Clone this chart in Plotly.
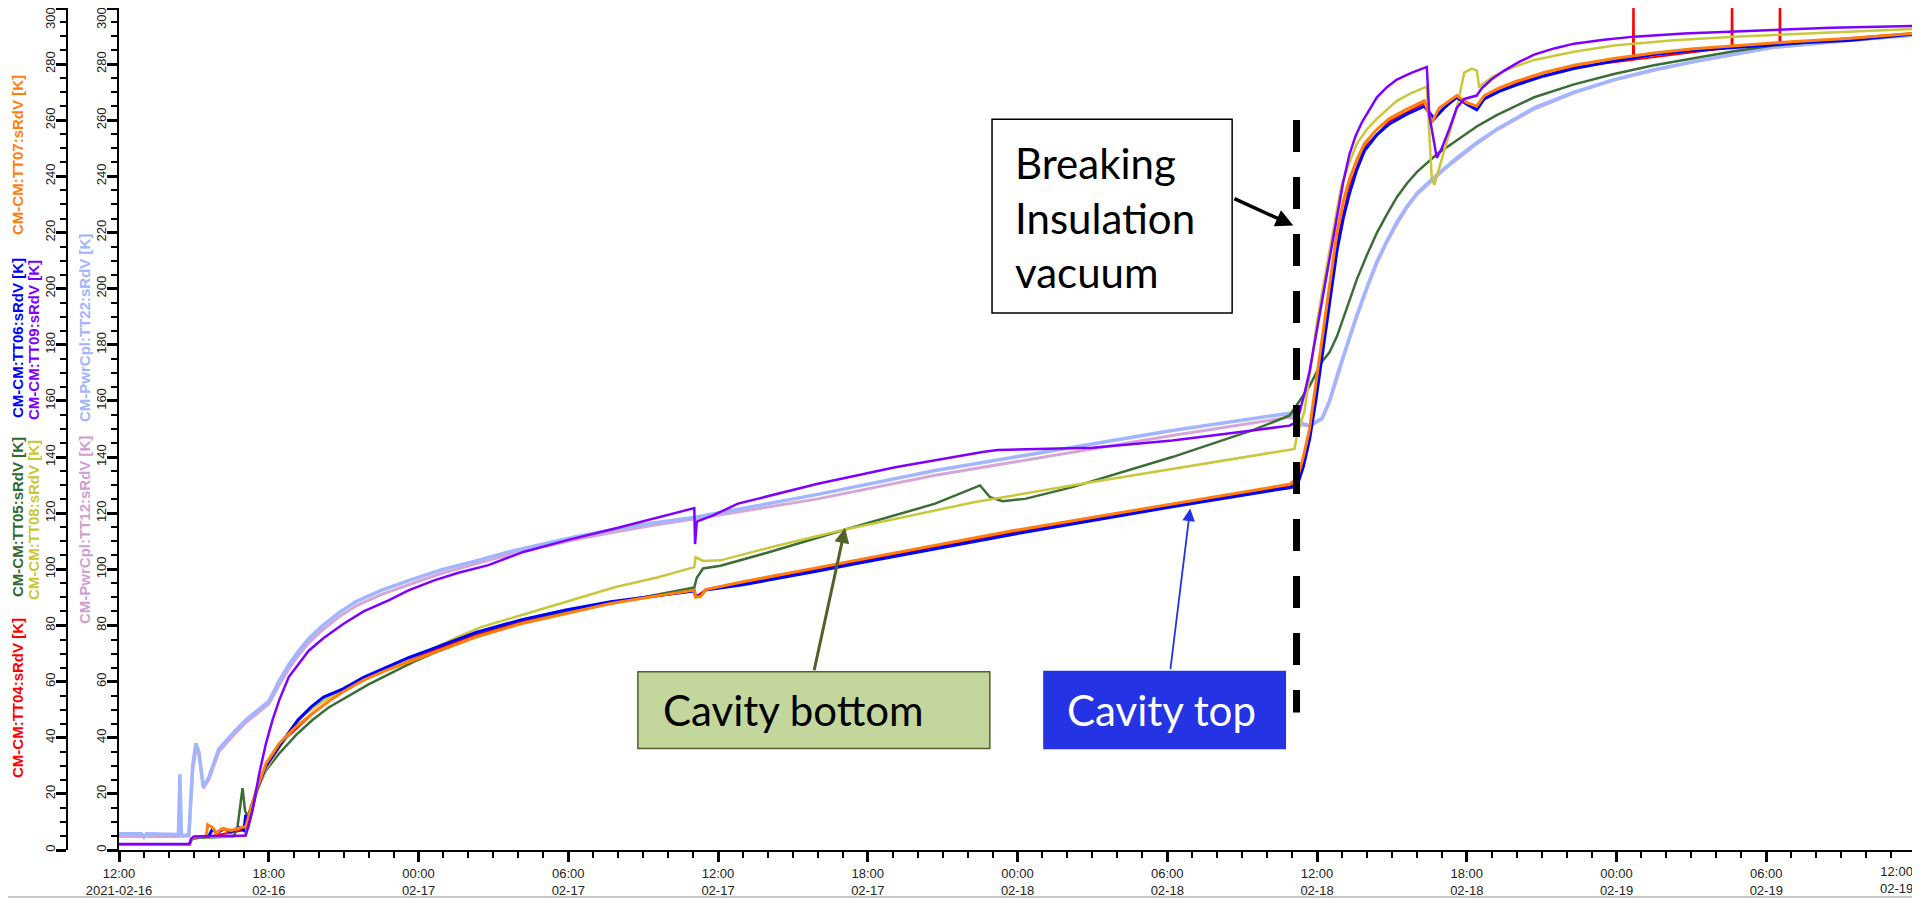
import pandas as pd
import plotly.graph_objects as go

START = "2021-02-16 12:00"

# ---------------- data (hours since START, temperature K) ----------------
TT04_RED = [(0, 2), (2.82, 2), (2.9, 3.8), (5.0, 7), (5.5, 21), (5.9, 30.5), (6.42, 37.5),
            (7.75, 48.5), (9.0, 57), (10.7, 64.5), (12.5, 70.8), (14.3, 76.7), (16.1, 81.3),
            (17.9, 84.8), (19.7, 88.1), (23.05, 92.4), (23.1, 90.2), (23.5, 92.7),
            (28, 100.0), (35.9, 113.2), (42.2, 122.8), (46.9, 129.7), (47.2, 131), (47.7, 148),
            (48.2, 178.5), (48.8, 216.5), (49.3, 236.5), (49.9, 250.4), (50.9, 259.6),
            (52.3, 266), (52.6, 259.8), (53.6, 268.5), (54.4, 264.3), (54.7, 268.2), (56, 273.2),
            (58.3, 279), (60.66, 281.5), (60.68, 320), (60.70, 281.6), (64.61, 286.0),
            (64.63, 320), (64.65, 286.0), (66.53, 287.3), (66.55, 320), (66.57, 287.4),
            (69.4, 288.9), (72, 290.9)]

TT05_GREEN = [(0, 2), (2.82, 2), (2.9, 3.8), (3.0, 4.3), (4.6, 4.8), (4.75, 8.3), (4.95, 22),
              (5.05, 14), (5.15, 11.9), (5.5, 21), (5.9, 28.5), (6.42, 34.4), (7.1, 41),
              (7.75, 46.3), (8.4, 50.8), (9.1, 54.5), (10, 59), (10.9, 63), (11.8, 67),
              (12.7, 70.5), (14.3, 76), (16, 80.5), (17.7, 84.3), (19.5, 87.5), (21.3, 90.6),
              (23.05, 93.5), (23.15, 97), (23.4, 100.3), (24.1, 101.3), (26, 106), (29, 113.9),
              (32.7, 123.4), (34.5, 129.9), (34.9, 125.7), (35.4, 124.3), (36.3, 125.1),
              (38.2, 129.3), (40.2, 134.6), (42.2, 140), (45.4, 149.5), (46.9, 154.8),
              (47.3, 160), (47.7, 165.3), (48.2, 174), (48.5, 177.3), (48.8, 183), (49.2, 193.5),
              (49.6, 203.4), (50.0, 212), (50.4, 219.9), (50.8, 226.5), (51.2, 232.6),
              (51.6, 237.5), (52, 241.5), (52.8, 247.9), (53.6, 253), (54.4, 257.8), (55.2, 261.8),
              (56.7, 268.2), (58.3, 272.8), (59.9, 276.5), (61.5, 279.6), (63.1, 282.2),
              (64.7, 284.6), (66.3, 286.6), (69.4, 289.2), (72, 291)]

TT06_BLUE = [(0, 2), (2.82, 2), (2.9, 3.8), (3.0, 4.5), (3.6, 5), (3.75, 7.5), (3.9, 6), (4.2, 7.5),
             (4.5, 6.5), (4.8, 8), (5.0, 7), (5.08, 12.5), (5.15, 8), (5.5, 21), (5.9, 30),
             (6.42, 37), (7.16, 46.2), (7.7, 51), (8.2, 54.5), (9.0, 57.5), (9.8, 61.5),
             (10.7, 65), (11.6, 68.5), (12.5, 71.5), (14.3, 77.5), (16.1, 82), (17.9, 85.5),
             (19.7, 88.5), (21.4, 90.5), (23.05, 92.3), (23.1, 90.3), (23.3, 90.6), (23.5, 92.6),
             (25, 94.5), (28, 99.4), (29.5, 102), (35.9, 112.6), (42.2, 122.3), (46.9, 129.1),
             (47.2, 129.7), (47.45, 136.5), (47.7, 146.2), (47.95, 160), (48.2, 175.4),
             (48.5, 195), (48.8, 213.5), (49.05, 225), (49.3, 233.9), (49.6, 242.5), (49.9, 249.1),
             (50.4, 254.8), (50.9, 258.7), (51.6, 262.2), (52.3, 265), (52.7, 260.6),
             (53.1, 264.5), (53.6, 268.2), (54.0, 265.7), (54.4, 263.7), (54.7, 267.6),
             (55.3, 270.3), (56, 272.6), (57.1, 275.8), (58.3, 278.4), (59.9, 281.1),
             (61.5, 283.4), (63.1, 284.9), (64.7, 286), (67, 287.4), (69.4, 288.5), (72, 290.8)]

TT07_ORANGE = [(0, 2), (2.82, 2), (2.9, 3.8), (3.0, 4.5), (3.5, 5), (3.55, 9), (3.75, 8), (3.9, 6),
               (4.1, 7.5), (4.5, 7), (4.9, 8), (5.08, 8.3), (5.5, 21.4), (5.9, 30.9), (6.42, 38),
               (7.09, 43.9), (7.75, 48.7), (8.4, 53), (9.0, 56.5), (9.8, 60.5), (10.7, 64),
               (11.6, 67), (12.5, 70), (13.4, 73), (14.3, 75.9), (16.1, 80.6), (17.9, 84.2),
               (19.7, 87.8), (21.4, 90.3), (23.05, 92.6), (23.1, 90.1), (23.3, 90.3), (23.5, 92.8),
               (25, 95.6), (28, 100.6), (29.5, 103.2), (35.9, 113.9), (42.2, 123.4), (46.9, 130.3),
               (47.2, 132.2), (47.45, 140), (47.7, 150), (47.95, 165), (48.2, 181.8),
               (48.5, 201), (48.8, 219.9), (49.05, 231), (49.3, 239), (49.6, 246), (49.9, 251.7),
               (50.4, 256.8), (50.9, 260.6), (51.6, 264), (52.3, 266.9), (52.6, 259.3),
               (52.9, 264.4), (53.6, 268.8), (54.0, 266.3), (54.4, 265), (54.7, 268.8),
               (55.3, 271.5), (56, 273.9), (57.1, 277), (58.3, 279.6), (59.9, 282), (61.5, 284),
               (63.1, 285.5), (64.7, 286.6), (67, 288), (69.4, 289.2), (72, 291)]

TT08_YELLOW = [(0, 2), (2.82, 2), (2.9, 4), (3.0, 4.5), (5.0, 5), (5.2, 8), (5.5, 20), (5.9, 29),
               (6.4, 36), (7.3, 47.4), (8.2, 53.2), (9.1, 58.1), (10, 61.8), (10.9, 65.2),
               (11.8, 68.8), (12.7, 72.3), (13.6, 76), (14.5, 79.4), (16.3, 84.2), (18.1, 88.9),
               (19.9, 93.7), (21.6, 97.2), (23.05, 100.8), (23.1, 104.3), (23.4, 103),
               (24.1, 103.2), (26.4, 108.5), (29, 114), (34.3, 124), (39, 131.1), (43.8, 138.2),
               (47.1, 142.9), (47.2, 148), (47.5, 156.4), (47.75, 172), (48.0, 188.1),
               (48.25, 201), (48.5, 213.5), (48.75, 226), (48.97, 236.4), (49.3, 245),
               (49.6, 251.7), (50.0, 256.8), (50.4, 260.6), (51.2, 266.9), (51.8, 269.8),
               (52.4, 272), (52.6, 239), (52.7, 237), (53.1, 249.1), (53.6, 264.4), (53.9, 277),
               (54.2, 278.4), (54.4, 277.7), (54.5, 272), (55.1, 275.8), (55.9, 279),
               (56.7, 281.5), (58.3, 284.4), (59.9, 286.6), (62.3, 288.5), (64.7, 289.8),
               (69.4, 291.7), (72, 292.6)]

TT09_PURPLE = [(0, 2.1), (2.82, 2.1), (2.9, 4.1), (3.0, 4.8), (5.08, 5.2), (5.35, 14.3),
               (5.62, 27.3), (5.89, 38), (6.15, 46.3), (6.42, 53.4), (6.8, 61.6), (7.2, 66.5),
               (7.6, 71), (8.2, 75.5), (9.0, 80.6), (9.8, 85), (10.8, 88.9), (11.6, 92.5),
               (12.6, 96), (13.6, 98.8), (14.8, 101.5), (16.2, 106.2), (18.0, 110.5),
               (19.8, 114.4), (21.5, 118.4), (23.05, 121.8), (23.08, 109), (23.15, 117),
               (23.8, 119.2), (24.8, 123.4), (28, 130.5), (31.1, 136.4), (34.6, 141.8),
               (35.2, 142.5), (39, 143.3), (42.2, 145.9), (45.4, 149.5), (46.9, 151.2),
               (47.2, 152.6), (47.5, 162.7), (47.7, 170.5), (47.9, 180.5), (48.1, 190.5),
               (48.3, 200.8), (48.55, 214), (48.8, 226.3), (49.05, 238), (49.3, 247.9),
               (49.55, 254.5), (49.8, 259.3), (50.1, 264), (50.4, 268.2), (50.8, 271.8),
               (51.2, 274.5), (51.8, 277), (52.4, 279), (52.5, 261.8), (52.8, 246.6), (53.0, 250),
               (53.3, 256.8), (53.6, 264.4), (53.9, 267.6), (54.4, 268.8), (54.6, 271.4),
               (55.0, 274.6), (55.5, 277.7), (56.1, 280.8), (56.7, 283.4), (57.5, 285.6),
               (58.3, 287.3), (59.5, 288.7), (60.7, 289.8), (62.7, 290.9), (64.7, 291.7),
               (68.6, 293), (72, 293.6)]

TT12_PINK = [(0, 4.8), (2.38, 4.8), (2.44, 18), (2.5, 5), (2.8, 5), (2.95, 28), (3.08, 36),
             (3.2, 34), (3.38, 22), (3.6, 25), (4.0, 35), (4.6, 41), (5.1, 45.5), (5.6, 49),
             (6.0, 52), (6.4, 58.5), (6.8, 64.5), (7.2, 69.5), (7.6, 73.8), (8.1, 78),
             (8.8, 83), (9.5, 87), (10.5, 91), (11.6, 94.5), (12.9, 98.5), (14.3, 102),
             (15.6, 105.2), (17, 108), (18.3, 110.6), (19.7, 113), (21.4, 115.7), (23.1, 118),
             (28, 125.1), (32.7, 133.5), (37.4, 140.5), (42.2, 147.7), (46.9, 154.2),
             (47.2, 153.5), (47.4, 151.5), (47.7, 151), (48.2, 153.5), (48.5, 159.5),
             (48.8, 168), (49.2, 179.5), (49.6, 190), (50.0, 200), (50.4, 209), (50.8, 216.5),
             (51.2, 223), (51.6, 228.8), (52, 233.5), (52.6, 238.5), (53.1, 242.5), (53.6, 246),
             (54.4, 251.6), (55.2, 256.5), (56.7, 264), (58.3, 269.8), (59.9, 274.3),
             (61.5, 277.8), (63.1, 280.8), (64.7, 283.5), (66.3, 286), (69.4, 288.5), (72, 290.3)]

TT22_LIGHTBLUE = [(0, 5.8), (0.9, 5.8), (1.0, 4.6), (1.1, 5.8), (2.38, 5.5), (2.44, 27), (2.5, 6),
                  (2.56, 5), (2.8, 5.5), (2.95, 30), (3.08, 38), (3.2, 35), (3.38, 22.5),
                  (3.6, 26), (4.0, 36), (4.6, 42), (5.1, 46.5), (5.6, 50), (6.0, 53), (6.4, 60),
                  (6.8, 66), (7.2, 71), (7.6, 75.3), (8.1, 79.5), (8.8, 84.5), (9.5, 88.5),
                  (10.5, 92.5), (11.6, 96), (12.9, 99.8), (14.3, 103), (15.6, 106.2), (17.0, 109),
                  (18.3, 111.6), (19.7, 114), (21.4, 116.5), (23.1, 118.6), (28.0, 126.7),
                  (32.7, 135.2), (37.4, 142.3), (42.2, 149.5), (46.9, 155.6), (47.2, 154.5),
                  (47.4, 152), (47.7, 151.2), (48.2, 153.8), (48.5, 160), (48.8, 169),
                  (49.2, 180), (49.6, 190.7), (50.0, 200.5), (50.4, 209.7), (50.8, 217),
                  (51.2, 223.7), (51.6, 229.3), (52.0, 233.9), (52.6, 239), (53.1, 243),
                  (53.6, 246.6), (54.4, 252), (55.2, 256.8), (56.7, 264.4), (58.3, 270),
                  (59.9, 274.5), (61.5, 278), (63.1, 280.9), (64.7, 283.6), (66.3, 286),
                  (69.4, 288.5), (72.0, 290.4)]

X_TICK_HOURS = [0, 6, 12, 18, 24, 30, 36, 42, 48, 54, 60, 66, 72]
X_TICK_LABELS = ["12:00<br>2021-02-16", "18:00<br>02-16", "00:00<br>02-17", "06:00<br>02-17",
                 "12:00<br>02-17", "18:00<br>02-17", "00:00<br>02-18", "06:00<br>02-18",
                 "12:00<br>02-18", "18:00<br>02-18", "00:00<br>02-19", "06:00<br>02-19",
                 "12:00<br>02-19"]
Y_TICKS = [0, 20, 40, 60, 80, 100, 120, 140, 160, 180, 200, 220, 240, 260, 280, 300]

# (name, points, colour, width) in drawing order
SERIES = [
    ("CM-CM:TT04:sRdV [K]", TT04_RED, "#ff0000", 2),
    ("CM-PwrCpl:TT12:sRdV [K]", TT12_PINK, "#d6a6d8", 3),
    ("CM-PwrCpl:TT22:sRdV [K]", TT22_LIGHTBLUE, "#a2b6ff", 3.5),
    ("CM-CM:TT05:sRdV [K]", TT05_GREEN, "#3b6e36", 2.5),
    ("CM-CM:TT08:sRdV [K]", TT08_YELLOW, "#c8c83c", 2.5),
    ("CM-CM:TT06:sRdV [K]", TT06_BLUE, "#0000ff", 3),
    ("CM-CM:TT07:sRdV [K]", TT07_ORANGE, "#ff7f0e", 3),
    ("CM-CM:TT09:sRdV [K]", TT09_PURPLE, "#8000ff", 2.5),
]

T0 = pd.Timestamp(START)


def ts(h):
    return (T0 + pd.Timedelta(hours=h)).strftime("%Y-%m-%d %H:%M:%S")


fig = go.Figure()
# empty trace so that the outer (second) temperature axis is drawn
fig.add_trace(go.Scatter(x=[], y=[], xaxis="x2", yaxis="y2", showlegend=False))
for name, pts, col, w in SERIES:
    fig.add_trace(go.Scatter(
        x=[ts(h) for h, _ in pts], y=[v for _, v in pts], mode="lines", name=name,
        line=dict(color=col, width=w), hoverinfo="skip"))

# page pixel -> paper coordinates (page body has an 8px margin)
OFF = 8
PAPER_W = 1908
PLOT_TOP, PLOT_BOTTOM = 8, 850


def pxx(p):
    return (p - OFF) / PAPER_W


def pxy(p):
    return (PLOT_BOTTOM - p) / (PLOT_BOTTOM - PLOT_TOP)


tick_font = dict(family="Liberation Sans, Arial, sans-serif", size=13, color="#222")
yax = dict(range=[0, 300], showline=True, linecolor="black", linewidth=2, ticks="outside",
           ticklen=10, tickwidth=3, tickcolor="black", tickmode="array", tickvals=Y_TICKS,
           ticktext=[str(v) for v in Y_TICKS[:-1]] + [""], tickangle=-90,
           tickfont=tick_font, showgrid=False, zeroline=False, fixedrange=True,
           automargin=False, ticklabeloverflow="allow", domain=[0, 1], ticklabelstandoff=-4,
           minor=dict(tickmode="linear", tick0=0, dtick=5, ticklen=6, tickwidth=1.5,
                      tickcolor="black", ticks="outside", showgrid=False))

fig.update_layout(
    width=1920, height=899,
    margin=dict(l=0, r=1920 - PAPER_W, t=PLOT_TOP - OFF, b=899 - (PLOT_BOTTOM - OFF)),
    paper_bgcolor="white", plot_bgcolor="rgba(0,0,0,0)", showlegend=False,
    xaxis=dict(domain=[pxx(119), 1], range=[ts(0), ts(72)], showline=True, linecolor="black",
               linewidth=2, ticks="outside", ticklen=10, tickwidth=3, tickcolor="black",
               tickmode="array", tickvals=[ts(h) for h in X_TICK_HOURS],
               ticktext=X_TICK_LABELS[:-1] + [""], tickangle=0, automargin=False,
               tickfont=tick_font, showgrid=False, zeroline=False, ticklabeloverflow="allow",
               anchor="y",
               minor=dict(tickmode="linear", tick0=ts(0), dtick=3600000, ticklen=6,
                          tickwidth=1.5, tickcolor="black", ticks="outside", showgrid=False)),
    xaxis2=dict(domain=[pxx(68), 1], range=[ts(0), ts(72)], visible=False, anchor="y2",
                automargin=False, fixedrange=True),
    yaxis=dict(**yax, anchor="x", side="left"),
    yaxis2=dict(**yax, anchor="x2", side="left"),
)

# "300" labels kept inside the page (shifted below their tick like the reference)
for ax_x in (50, 101):
    fig.add_annotation(x=pxx(ax_x), y=pxy(18), xref="paper", yref="paper", text="300",
                       textangle=-90, showarrow=False, xanchor="center", yanchor="middle",
                       font=tick_font)

# axis titles (stacked, rotated, coloured like each series)
TITLE_POS = {
    "CM-CM:TT04:sRdV [K]": (17, 698), "CM-CM:TT05:sRdV [K]": (17, 517),
    "CM-CM:TT06:sRdV [K]": (17, 338), "CM-CM:TT07:sRdV [K]": (17, 155),
    "CM-CM:TT08:sRdV [K]": (33, 520), "CM-CM:TT09:sRdV [K]": (33, 340),
    "CM-PwrCpl:TT12:sRdV [K]": (84, 530), "CM-PwrCpl:TT22:sRdV [K]": (84, 328),
}
TITLE_COL = {"CM-CM:TT04:sRdV [K]": "#ff0000", "CM-CM:TT05:sRdV [K]": "#2f6b2f",
             "CM-CM:TT06:sRdV [K]": "#0000ff", "CM-CM:TT07:sRdV [K]": "#ff7f0e",
             "CM-CM:TT08:sRdV [K]": "#c8c832", "CM-CM:TT09:sRdV [K]": "#8000ff",
             "CM-PwrCpl:TT12:sRdV [K]": "#d0a0d0", "CM-PwrCpl:TT22:sRdV [K]": "#a0b4ff"}
for name, (px_, py_) in TITLE_POS.items():
    fig.add_annotation(x=pxx(px_), y=pxy(py_), xref="paper", yref="paper", text=name,
                       textangle=-90, showarrow=False, xanchor="center", yanchor="middle",
                       font=dict(family="Liberation Sans, Arial, sans-serif", size=15,
                                 color=TITLE_COL[name], weight="bold"))

# last x tick label kept inside the page
fig.add_annotation(x=pxx(1915), y=pxy(880), xref="paper", yref="paper",
                   text=X_TICK_LABELS[-1], showarrow=False, xanchor="right", yanchor="middle",
                   font=tick_font, align="center")

# bottom window border
fig.add_shape(type="line", xref="paper", yref="paper", x0=-0.01, x1=1.01, y0=pxy(897),
              y1=pxy(897), line=dict(color="#c8c8c8", width=2))

# dashed vertical marker (breaking insulation vacuum)
fig.add_shape(type="line", xref="x", yref="y", x0=ts(47.18), x1=ts(47.18), y0=260.1, y1=49,
              line=dict(color="black", width=7, dash="32px,25px"))

# boxes
fig.add_shape(type="rect", xref="x", yref="y", x0=ts(34.98), x1=ts(44.6), y0=191.3, y1=260.4,
              line=dict(color="black", width=1.5), fillcolor="white")
fig.add_shape(type="rect", xref="x", yref="y", x0=ts(20.79), x1=ts(34.89), y0=36.2, y1=63.5,
              line=dict(color="#4f6228", width=1.5), fillcolor="#c3d69b")
fig.add_shape(type="rect", xref="x", yref="y", x0=ts(37.06), x1=ts(46.73), y0=36.2, y1=63.6,
              line=dict(color="#2434e4", width=1.5), fillcolor="#2434e4")

box_font = "Lato, Carlito, Calibri, sans-serif"
fig.add_annotation(x=ts(35.82), y=225.3, xref="x", yref="y", xanchor="left", yanchor="middle",
                   text="Breaking<br>Insulation<br>vacuum", align="left", showarrow=False,
                   font=dict(family=box_font, size=42, color="black"))
fig.add_annotation(x=ts(27.04), y=49.9, xref="x", yref="y", xanchor="center", yanchor="middle",
                   text="Cavity bottom", showarrow=False,
                   font=dict(family=box_font, size=42, color="black"))
fig.add_annotation(x=ts(41.75), y=49.9, xref="x", yref="y", xanchor="center", yanchor="middle",
                   text="Cavity top", showarrow=False,
                   font=dict(family=box_font, size=42, color="white"))

# arrows
fig.add_annotation(x=ts(29.09), y=114.7, ax=ts(27.84), ay=63.5, xref="x", yref="y",
                   axref="x", ayref="y", text="", showarrow=True, arrowhead=2, arrowsize=1,
                   arrowwidth=3, arrowcolor="#4f6228")
fig.add_annotation(x=ts(42.92), y=121.7, ax=ts(42.12), ay=63.9, xref="x", yref="y",
                   axref="x", ayref="y", text="", showarrow=True, arrowhead=2, arrowsize=1.4,
                   arrowwidth=1.8, arrowcolor="#2434e4")
fig.add_annotation(x=ts(47.05), y=222.5, ax=ts(44.63), ay=232.3, xref="x", yref="y",
                   axref="x", ayref="y", text="", showarrow=True, arrowhead=2, arrowsize=1,
                   arrowwidth=3.5, arrowcolor="black")

fig.write_html("out.html")
